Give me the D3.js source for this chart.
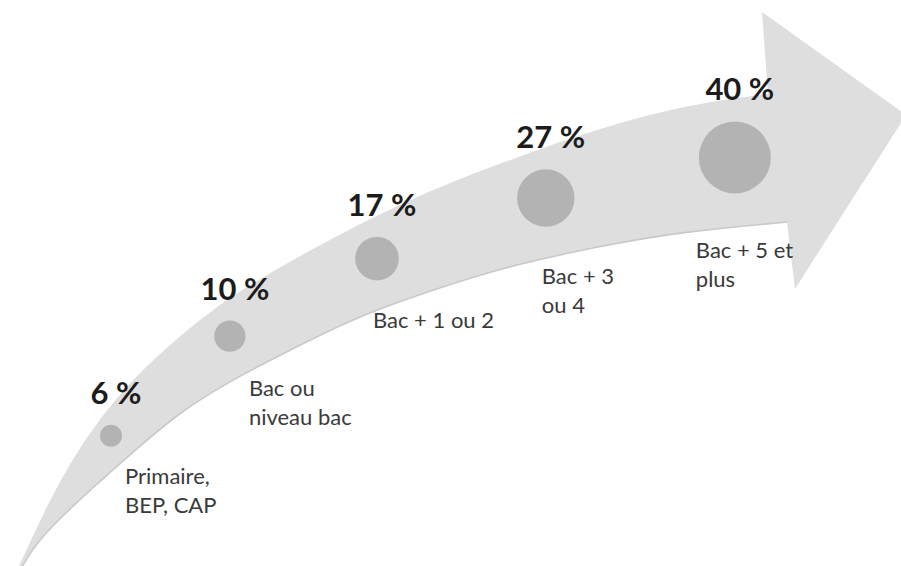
<!DOCTYPE html>
<html>
<head>
<meta charset="utf-8">
<script src="https://cdn.jsdelivr.net/npm/d3@7"></script>
<style>
  html, body { margin: 0; padding: 0; background: #ffffff; }
  svg { display: block; }
</style>
</head>
<body>
<div id="chart"></div>
<script>
// ---- data ----
const categories = ["Primaire, BEP, CAP", "Bac ou niveau bac", "Bac + 1 ou 2", "Bac + 3 ou 4", "Bac + 5 et plus"];
const categoryLines = [["Primaire,", "BEP, CAP"], ["Bac ou", "niveau bac"], ["Bac + 1 ou 2"], ["Bac + 3", "ou 4"], ["Bac + 5 et", "plus"]];
const values = [6, 10, 17, 27, 40];
const valueLabels = ["6 %", "10 %", "17 %", "27 %", "40 %"];

// ---- layout (decorative arrow geometry & label placement) ----
const W = 901, H = 566;
const upperEdge = [[0,608],[43,513],[70,463],[95,425],[125,388],[160,353],[210,311],[260,278],[345,231],[430,190],[517,157],[600,128],[690,104],[768,94]];
const lowerEdge = [[0,608],[22,566],[40,537],[90,490],[140,446],[180,412],[230,381],[280,355],[360,315],[430,291],[500,268],[600,246],[680,232],[787,222]];
const headPts = [[762,12],[906,115],[795,289]];
const labelDx = [14, 19, -4, -4, -39];
const labelDy = [25, 25, 17, 25, 27];

const svg = d3.select("#chart").append("svg").attr("width", W).attr("height", H);

// arrow outline
const edgeLine = d3.line().curve(d3.curveBasis);
const upperStr = edgeLine(upperEdge);
const lowerRev = lowerEdge.slice().reverse();
const lowerStr = edgeLine(lowerRev).replace(/^M/, "L");
const arrowD = upperStr + headPts.map(p => "L" + p[0] + "," + p[1]).join("") + lowerStr + "Z";

const defs = svg.append("defs");
defs.append("filter").attr("id", "soft").append("feGaussianBlur").attr("stdDeviation", 0.6);

svg.append("path").attr("d", arrowD).attr("fill", "#dedede").attr("filter", "url(#soft)");
svg.append("path").attr("d", edgeLine(lowerEdge))
  .attr("fill", "none").attr("stroke", "#c9c9c9").attr("stroke-width", 1.6).attr("filter", "url(#soft)");

// spine (interpolated between the edges) for placing circles
const upperY = d3.scaleLinear().domain(upperEdge.map(d => d[0])).range(upperEdge.map(d => d[1]));
const lowerY = d3.scaleLinear().domain(lowerEdge.map(d => d[0])).range(lowerEdge.map(d => d[1]));
const spineY = x => 0.54 * upperY(x) + 0.46 * lowerY(x);

const xs = d3.range(30, 781, 0.5);
const cum = [0];
for (let i = 1; i < xs.length; i++) {
  const dx = xs[i] - xs[i - 1], dy = spineY(xs[i]) - spineY(xs[i - 1]);
  cum.push(cum[i - 1] + Math.hypot(dx, dy));
}
const xAtLen = d3.scaleLinear().domain(cum).range(xs);
const lenAtX = d3.scaleLinear().domain(xs).range(cum);

const r = d3.scaleSqrt().domain([6, 40]).range([11, 36]);
const gap = 129;
const startLen = lenAtX(111);

const pos = [];
let s = startLen;
values.forEach((v, i) => {
  if (i > 0) s += r(values[i - 1]) + gap + r(v);
  const cx = xAtLen(s);
  pos.push({ cx, cy: spineY(cx), r: r(v), v, i });
});

svg.append("g").attr("filter", "url(#soft)").selectAll("circle").data(pos).join("circle")
  .attr("cx", d => d.cx).attr("cy", d => d.cy).attr("r", d => d.r)
  .attr("fill", "#b3b3b3");

// value labels
svg.append("g").selectAll("text").data(pos).join("text")
  .attr("x", d => d.cx + 5)
  .attr("y", d => d.cy - d.r - 21)
  .attr("text-anchor", "middle")
  .attr("font-family", "Lato, 'Open Sans', sans-serif")
  .attr("font-weight", 700)
  .attr("font-size", 31)
  .attr("fill", "#1c1c1c")
  .text(d => valueLabels[d.i]);

// category labels
const catG = svg.append("g").selectAll("text").data(pos).join("text")
  .attr("font-family", "Lato, 'Open Sans', sans-serif")
  .attr("font-size", 22)
  .attr("fill", "#3a3a3a")
  .attr("x", d => d.cx + labelDx[d.i])
  .attr("y", d => lowerY(d.cx + labelDx[d.i]) + labelDy[d.i]);
catG.selectAll("tspan").data(d => categoryLines[d.i].map((t, k) => ({ t, k, x: d.cx + labelDx[d.i] })))
  .join("tspan")
  .attr("x", d => d.x)
  .attr("dy", d => d.k === 0 ? 0 : 29)
  .text(d => d.t);
</script>
</body>
</html>
